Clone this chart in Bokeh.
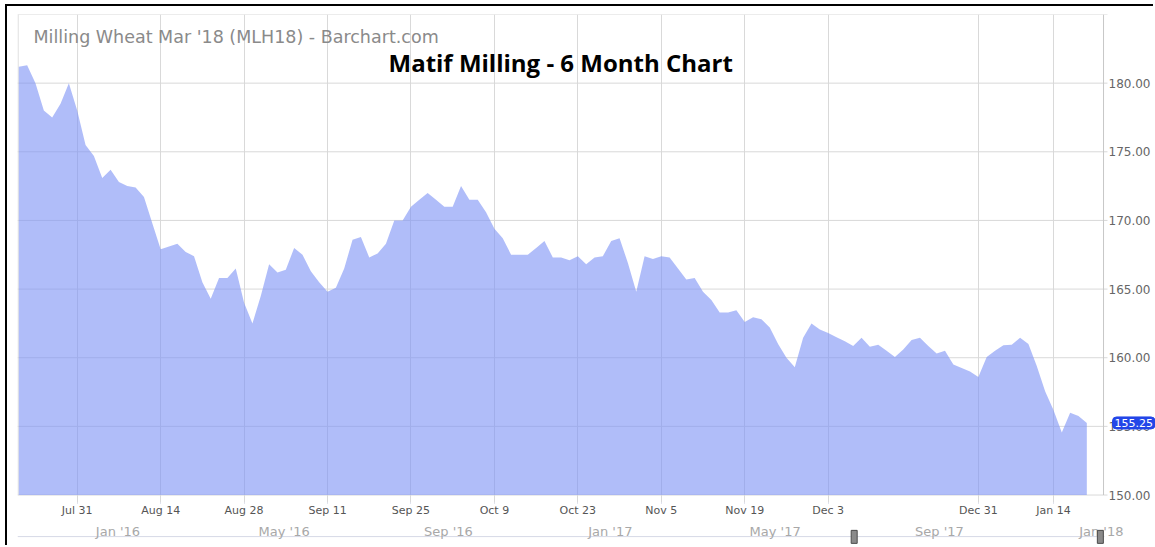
import pandas as pd
from bokeh.plotting import figure
from bokeh.models import Range1d, FixedTicker, Label
from bokeh.layouts import column
from bokeh.embed import file_html
from bokeh.resources import INLINE
from bokeh.core.properties import value

chart_title = "Milling Wheat Mar '18 (MLH18) - Barchart.com"
overlay_title = "Matif Milling - 6 Month Chart"

start_date = "2017-07-20"
end_date = "2018-01-19"
holidays = ["2017-12-25", "2017-12-26", "2018-01-01"]

prices = [
    181.2, 181.3, 180.0, 178.0, 177.5, 178.5, 180.0, 178.0, 175.5, 174.7,
    173.1, 173.7, 172.8, 172.5, 172.4, 171.7, 169.8, 167.9, 168.1, 168.3,
    167.7, 167.4, 165.5, 164.3, 165.8, 165.8, 166.5, 164.0, 162.5, 164.5,
    166.8, 166.2, 166.4, 168.0, 167.5, 166.3, 165.5, 164.8, 165.1, 166.5,
    168.6, 168.8, 167.3, 167.6, 168.3, 170.0, 170.0, 171.0, 171.5, 172.0,
    171.5, 171.0, 171.0, 172.5, 171.5, 171.5, 170.6, 169.4, 168.7, 167.5,
    167.5, 167.5, 168.0, 168.5, 167.3, 167.3, 167.1, 167.4, 166.8, 167.3,
    167.4, 168.5, 168.7, 166.9, 164.8, 167.4, 167.2, 167.4, 167.3, 166.5,
    165.7, 165.8, 164.8, 164.2, 163.3, 163.3, 163.45, 162.6, 162.95, 162.8,
    162.2, 161.0, 160.0, 159.3, 161.45, 162.5, 162.05, 161.8, 161.5, 161.2,
    160.85, 161.45, 160.8, 160.95, 160.5, 160.05, 160.6, 161.3, 161.45, 160.85,
    160.3, 160.5, 159.5, 159.25, 159.0, 158.6, 160.05, 160.5, 160.9, 160.95,
    161.45, 161.0, 159.4, 157.55, 156.2, 154.55, 156.0, 155.75, 155.25,
]

tick_dates = ["2017-07-31", "2017-08-14", "2017-08-28", "2017-09-11", "2017-09-25",
              "2017-10-09", "2017-10-23", "2017-11-06", "2017-11-20", "2017-12-04",
              "2018-01-02", "2018-01-15"]
tick_labels = ["Jul 31", "Aug 14", "Aug 28", "Sep 11", "Sep 25", "Oct 9", "Oct 23",
               "Nov 5", "Nov 19", "Dec 3", "Dec 31", "Jan 14"]

y_ticks = [150, 155, 160, 165, 170, 175, 180]
y_max = 185

nav_start = "2015-11-06"
nav_end = "2018-03-01"
nav_dates = ["2016-01-01", "2016-05-01", "2016-09-01", "2017-01-01",
             "2017-05-01", "2017-09-01", "2018-01-01"]
nav_labels = ["Jan '16", "May '16", "Sep '16", "Jan '17", "May '17", "Sep '17", "Jan '18"]

# trading-day calendar (ordinal x axis)
dates = pd.bdate_range(start_date, end_date)
dates = dates[~dates.isin(pd.to_datetime(holidays))]
n_pts = min(len(dates), len(prices))
dates = dates[:n_pts]
prices = prices[:n_pts]
idx = list(range(n_pts))
tick_idx = [int(dates.get_loc(pd.Timestamp(d))) for d in tick_dates]

# layout constants
GRID = "#d9d9d9"
FIG_W = 1148
BORDER_L = 10
FRAME_W = FIG_W - BORDER_L
X_START, X_END = -0.156, 136.23
AXIS_X = 130.0                       # where the price axis sits (ordinal units)
PX = (X_END - X_START) / FRAME_W     # ordinal units per pixel
Y_PAD = 0.545                        # room under the lowest price level for tick marks / label

p = figure(width=FIG_W, height=513,
           x_range=Range1d(X_START, X_END), y_range=Range1d(y_ticks[0] - Y_PAD, y_max),
           output_backend="svg", toolbar_location=None,
           y_axis_location=None,
           min_border_left=BORDER_L, min_border_right=0, min_border_top=8, min_border_bottom=15)
p.background_fill_color = "white"
p.border_fill_color = "white"
p.outline_line_color = None
p.ygrid.visible = False

# horizontal grid lines (ending in a short tick past the price axis)
grid_levels = y_ticks + [y_max]
p.segment(x0=[X_START] * len(grid_levels), x1=[AXIS_X + 4 * PX] * len(grid_levels),
          y0=grid_levels, y1=grid_levels, line_color=GRID, line_width=1)
# left frame edge and price axis line
p.segment(x0=[X_START + 0.6 * PX], x1=[X_START + 0.6 * PX], y0=[y_ticks[0]], y1=[y_max],
          line_color=GRID, line_width=1)
p.segment(x0=[AXIS_X], x1=[AXIS_X], y0=[y_ticks[0]], y1=[y_max],
          line_color="#c8c8c8", line_width=1)

# price area
p.varea(x=idx, y1=y_ticks[0], y2=prices, fill_color="#7b91f5", fill_alpha=0.6)

# x axis (ordinal trading days); the vertical grid lines run down as tick marks
xt = FixedTicker(ticks=tick_idx)
p.xaxis.ticker = xt
p.xgrid.ticker = xt
p.xaxis.major_label_overrides = {i: l for i, l in zip(tick_idx, tick_labels)}
p.xaxis.major_tick_in = 0
p.xaxis.major_tick_out = 1
p.xaxis.major_tick_line_color = "#c4c9dc"
p.xaxis.minor_tick_line_color = None
p.xaxis.axis_line_color = None
p.xaxis.major_label_standoff = 0
p.xaxis.major_label_text_font = "DejaVu Sans"
p.xaxis.major_label_text_font_size = "11px"
p.xaxis.major_label_text_color = "#555555"
p.xgrid.grid_line_color = GRID

# price axis labels
p.text(x=[AXIS_X] * len(y_ticks), y=y_ticks, text=[f"{v:.2f}" for v in y_ticks],
       x_offset=5, text_align="left", text_baseline="middle",
       text_font=value("DejaVu Sans"), text_font_size="12px", text_color="#666666")

# last price tag
p.text(x=[AXIS_X], y=[prices[-1]], text=[f"{prices[-1]:.2f}"],
       x_offset=9, text_align="left", text_baseline="middle",
       text_font=value("DejaVu Sans"), text_font_size="11px", text_color="white",
       background_fill_color="#2346e8", border_line_color="#2346e8",
       padding=2, border_radius=4)

# overlay titles
p.add_layout(Label(x=X_START, y=y_max, x_offset=16, y_offset=-22,
                   text=chart_title, text_font="DejaVu Sans", text_font_size="17.5px",
                   text_color="#8a8a8a", text_baseline="alphabetic", text_align="left"))
p.add_layout(Label(x=X_START, y=y_max, x_offset=371, y_offset=-48,
                   text=overlay_title, text_font="Open Sans", text_font_style="bold",
                   text_font_size="24px", text_color="#000000",
                   text_baseline="alphabetic", text_align="left"))

# navigator strip
nav = figure(width=FIG_W, height=28,
             x_range=Range1d(pd.Timestamp(nav_start), pd.Timestamp(nav_end)),
             y_range=Range1d(0, 1), x_axis_type="datetime",
             x_axis_location=None, y_axis_location=None,
             output_backend="svg", toolbar_location=None,
             min_border_left=BORDER_L, min_border_right=0, min_border_top=0, min_border_bottom=0)
nav.grid.visible = False
nav.outline_line_color = None
nav.background_fill_color = "white"
nav.border_fill_color = "white"
nav.segment(x0=[pd.Timestamp(nav_start)], x1=[dates[-1] + pd.Timedelta(days=3)],
            y0=[0.39], y1=[0.39], line_color="#d6d9e6", line_width=1)
nav.text(x=pd.to_datetime(nav_dates), y=[0.58] * len(nav_dates), text=nav_labels,
         x_offset=3, text_align="left", text_baseline="middle",
         text_font=value("DejaVu Sans"), text_font_size="13px", text_color="#a8a8a8")
nav.rect(x=[dates[0], dates[-1]], y=[0.38, 0.38], width=6, height=13,
         width_units="screen", height_units="screen",
         fill_color="#8a8a8a", line_color="#4a4a4a")

layout = column(p, nav, spacing=0, margin=(6, 0, 0, 7))
layout.styles = {"box-shadow": "-2px -2px 0 0 #000000"}

open("out.html", "w").write(file_html(layout, INLINE))
